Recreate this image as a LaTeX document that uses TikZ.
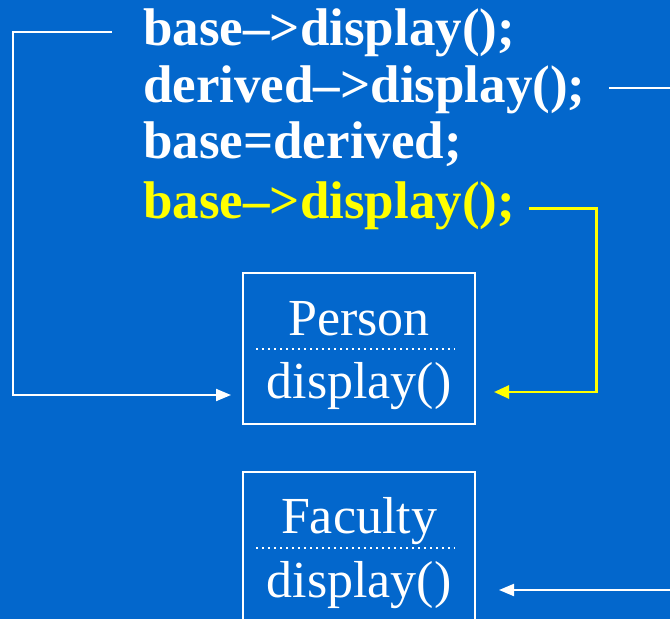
\documentclass[tikz,border=0pt]{standalone}
\usepackage{fontspec}
\setmainfont{Liberation Serif}
\usetikzlibrary{positioning}
\usetikzlibrary{calc}
\usetikzlibrary{arrows.meta}
\definecolor{slideblue}{RGB}{3,103,204}
\definecolor{callyellow}{RGB}{255,255,0}

\begin{document}
\begin{tikzpicture}[x=1pt,y=-1pt,
	code/.style={anchor=base west,inner sep=0pt,text=white,font=\fontsize{53}{58}\selectfont\bfseries},
	cls/.style={anchor=base,inner sep=0pt,text=white,font=\fontsize{52}{58}\selectfont},
	classbox/.style={draw=white,line width=2pt,minimum width=232pt,minimum height=151pt,inner sep=0pt},
	sep/.style={white,line width=1.6pt,dash pattern=on 1.6pt off 4.4pt},
	wire/.style={white,line width=2pt,-{Triangle[length=15pt,width=12pt]}},
	hotwire/.style={callyellow,line width=2.6pt,-{Triangle[length=15pt,width=13pt]}}]

	% Background %
	\useasboundingbox (0,0) rectangle (670,619);
	\fill [slideblue] (0,0) rectangle (670,619);
	\clip (0,0) rectangle (670,619);

	% Code %
	\node [code] (code1) at (143,45) {base\textendash>display();};
	\node [code] (code2) at (143,102) {derived\textendash>display();};
	\node [code] (code3) at (143,158) {base=derived;};
	\node [code, text=callyellow] (code4) at (143,218) {base\textendash>display();};

	% Person %
	\node [classbox] (person) at (359,348.5) {};
	\node [cls] (personname) at (359,335) {Person};
	\node [cls] (personop) at (359,398) {display()};
	\draw [sep] (256,349) -- (455,349);

	% Faculty %
	\node [classbox] (faculty) at (359,547.5) {};
	\node [cls] (facultyname) at (359,533) {Faculty};
	\node [cls] (facultyop) at (359,597) {display()};
	\draw [sep] (256,548) -- (455,548);

	% Calls %
	\draw [wire] ([xshift=-31pt]code1.west) -- ++(-99,0) |- ($(person.west |- personop.base)+(-11,-3)$);
	\draw [wire] ([xshift=23pt,yshift=1pt]code2.east) -- ++(100,0) |- ($(faculty.east |- facultyop.base)+(23,-7)$);
	\draw [hotwire] ([xshift=14pt,yshift=-3pt]code4.east) -- ++(67,0) |- ($(person.east |- personop.base)+(18,-6)$);
\end{tikzpicture}
\end{document}
